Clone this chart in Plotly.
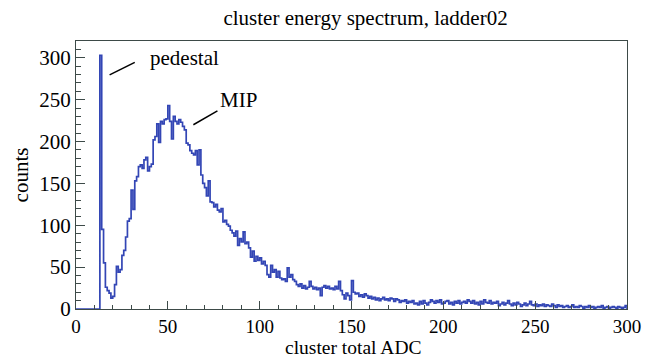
import plotly.graph_objects as go

# ---- data (bin width 1 ADC, bins 0..299) ----
bin_lo = 0
bin_width = 1
counts = [0]*13 + [
    303, 95, 55, 26, 22, 19, 13, 15, 29, 51,          # 13-22
    44, 47, 64, 70, 86, 105, 108, 142, 119, 153,      # 23-32
    158, 170, 172, 168, 178, 181, 165, 170, 173, 202, # 33-42
    206, 221, 199, 224, 221, 226, 227, 243, 224, 203, # 43-52
    230, 224, 221, 226, 223, 218, 214, 198, 196, 189, # 53-62
    186, 184, 189, 172, 190, 160, 150, 145, 135, 153, # 63-72
    128, 127, 122, 125, 118, 116, 120, 104, 106, 101, # 73-82
    99, 94, 91, 87, 93, 76, 84, 80, 92, 78,           # 83-92
    80, 73, 62, 69, 57, 63, 58, 61, 54, 57,           # 93-102
    52, 41, 38, 52, 44, 47, 38, 45, 37, 35,           # 103-112
    36, 33, 49, 38, 41, 35, 33, 29, 27, 30,           # 113-122
    25, 28, 24, 26, 33, 27, 24, 26, 23, 25,           # 123-132
    16, 26, 28, 25, 27, 24, 25, 23, 27, 24,           # 133-142
    33, 22, 17, 12, 19, 16, 11, 34, 20, 18,           # 143-152
    19, 15, 17, 14, 18, 16, 13, 15, 12, 14,           # 153-162
    11, 13, 10, 12, 14, 11, 12, 10, 13, 12,           # 163-172
    9, 12, 11, 8, 10, 9, 11, 7, 9, 8,                 # 173-182
    10, 6, 7, 5, 9, 6, 10, 7, 5, 8,                   # 183-192
    11, 9, 7, 10, 8, 11, 6, 7, 9, 10,                 # 193-202
    6, 8, 5, 9, 7, 10, 6, 8, 9, 7,                    # 203-212
    11, 9, 7, 10, 6, 8, 5, 9, 6, 11,                  # 213-222
    8, 7, 10, 6, 8, 7, 9, 4, 6, 8,                    # 223-232
    5, 7, 10, 6, 4, 7, 5, 8, 6, 3,                    # 233-242
    5, 7, 4, 6, 9, 5, 4, 6, 3, 5,                     # 243-252
    4, 6, 3, 5, 4, 3, 6, 4, 2, 5,                     # 253-262
    3, 4, 2, 3, 4, 2, 3, 5, 2, 3,                     # 263-272
    2, 4, 3, 1, 3, 2, 4, 2, 3, 1,                     # 273-282
    2, 3, 2, 4, 1, 2, 3, 1, 2, 3,                     # 283-292
    2, 1, 3, 2, 1, 2, 4,                              # 293-299
]

title_text = "cluster energy spectrum, ladder02"
x_title = "cluster total ADC"
y_title = "counts"
x_ticks = [0, 50, 100, 150, 200, 250, 300]
y_ticks = [0, 50, 100, 150, 200, 250, 300]

# ---- build step outline ----
edges = [bin_lo + i*bin_width for i in range(len(counts)+1)]
xs = [edges[0]]
ys = [0]
for i, c in enumerate(counts):
    xs += [edges[i], edges[i+1]]
    ys += [c, c]
xs.append(edges[-1])
ys.append(0)

FONT = "Liberation Serif"
AXC = "#3d4a48"

fig = go.Figure()
fig.add_trace(go.Scatter(x=xs, y=ys, mode="lines",
                         line=dict(color="#3346b5", width=1.7),
                         hoverinfo="skip", showlegend=False))

fig.update_layout(
    width=647, height=358,
    margin=dict(l=76, r=20, t=41, b=49, autoexpand=False),
    paper_bgcolor="white", plot_bgcolor="white",
    font=dict(family=FONT, size=20, color="black"),
    title=dict(text=title_text, x=0.565, xanchor="center", y=0.95, yanchor="middle",
               font=dict(family=FONT, size=21)),
    showlegend=False,
)
fig.update_xaxes(
    range=[0, 300], tickvals=x_ticks, ticktext=[str(v) for v in x_ticks],
    ticks="inside", ticklen=8, tickcolor=AXC, tickwidth=1,
    minor=dict(dtick=10, ticks="inside", ticklen=4, tickcolor=AXC),
    showline=True, linecolor=AXC, linewidth=1.3, mirror=True,
    showgrid=False, zeroline=False, automargin=False,
    tickfont=dict(family=FONT, size=19),
)
fig.update_yaxes(
    range=[0, 320], tickvals=y_ticks, ticktext=[str(v) for v in y_ticks],
    ticks="inside", ticklen=9, tickcolor=AXC, tickwidth=1,
    minor=dict(dtick=10, ticks="inside", ticklen=5, tickcolor=AXC),
    showline=True, linecolor=AXC, linewidth=1.3, mirror=True,
    showgrid=False, zeroline=False, automargin=False,
    title=dict(text=y_title, font=dict(family=FONT, size=21), standoff=4),
    tickfont=dict(family=FONT, size=21),
)

# x-axis title as a paper annotation (placed below the tick labels)
fig.add_annotation(x=0.503, y=0, yshift=-50, xref="paper", yref="paper", text=x_title,
                   showarrow=False, xanchor="center", yanchor="bottom",
                   borderpad=0, font=dict(family=FONT, size=19.5))

# annotations with pointer lines
fig.add_shape(type="line", x0=18.3, y0=279.5, x1=32, y1=294.5,
              line=dict(color="black", width=1.5))
fig.add_annotation(x=39.4, y=300, text="pedestal", showarrow=False,
                   xanchor="left", yanchor="middle", font=dict(family=FONT, size=21))
fig.add_shape(type="line", x0=63.9, y0=220, x1=77, y1=236.5,
              line=dict(color="black", width=1.5))
fig.add_annotation(x=77.5, y=249, text="MIP", showarrow=False,
                   xanchor="left", yanchor="middle", font=dict(family=FONT, size=21))

fig.write_html("out.html")
